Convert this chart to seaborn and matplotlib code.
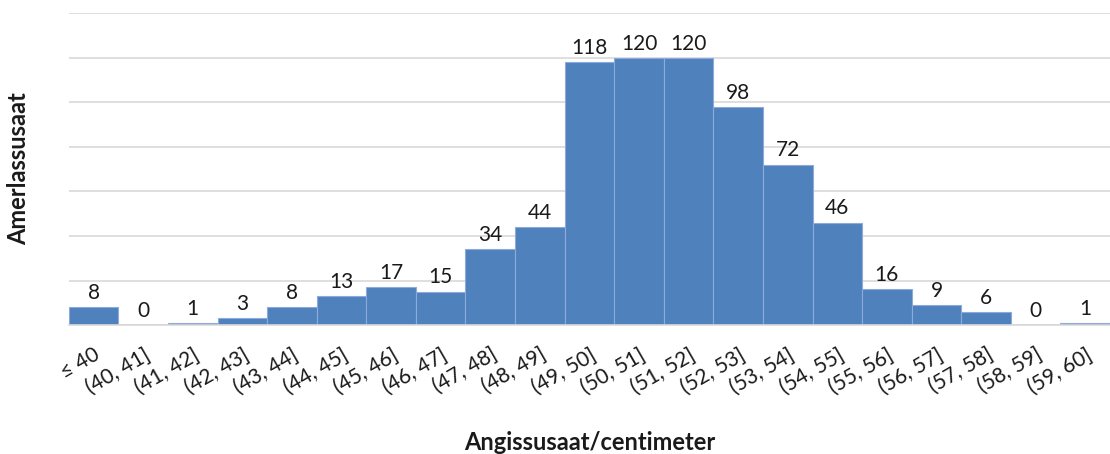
import matplotlib
matplotlib.use("Agg")
import matplotlib.pyplot as plt
import seaborn as sns
import pandas as pd

sns.set_style("white")
plt.rcParams['font.family'] = ['Lato', 'DejaVu Sans']

# Data
categories = ['≤ 40', '(40, 41]', '(41, 42]', '(42, 43]', '(43, 44]', '(44, 45]',
              '(45, 46]', '(46, 47]', '(47, 48]', '(48, 49]', '(49, 50]', '(50, 51]',
              '(51, 52]', '(52, 53]', '(53, 54]', '(54, 55]', '(55, 56]', '(56, 57]',
              '(57, 58]', '(58, 59]', '(59, 60]']
counts = [8, 0, 1, 3, 8, 13, 17, 15, 34, 44, 118, 120, 120, 98, 72, 46, 16, 9, 6, 0, 1]

df = pd.DataFrame({'bin': categories, 'count': counts})

fig = plt.figure(figsize=(11.1, 4.54), dpi=100)
ax = fig.add_axes([0.062, 0.284, 0.938, 0.687])

sns.barplot(data=df, x='bin', y='count', color='#4F81BD', saturation=1,
            width=1.0, edgecolor='#8EAADB', linewidth=0.8, ax=ax)

ax.bar_label(ax.containers[0], labels=[str(c) for c in counts],
             padding=3, fontsize=15, color='#1a1a1a')

ax.set_ylim(0, 140)
ax.set_xlim(-0.5, len(categories) - 0.5)
ax.set_yticks(range(0, 141, 20))
ax.set_yticklabels([])
ax.tick_params(axis='y', length=0)
ax.tick_params(axis='x', length=0, pad=14)
ax.yaxis.grid(True, color='#D9D9D9', linewidth=1.2)
ax.set_axisbelow(True)
for side in ['top', 'right', 'left']:
    ax.spines[side].set_visible(False)
ax.spines['bottom'].set_color('#D9D9D9')
ax.spines['bottom'].set_linewidth(1.2)

plt.setp(ax.get_xticklabels(), rotation=30, ha='right', rotation_mode='anchor',
         fontsize=15, color='#1a1a1a')

ax.set_xlabel('Angissusaat/centimeter', fontsize=17, fontweight='bold', color='#1a1a1a')
ax.set_ylabel('Amerlassusaat', fontsize=17, fontweight='bold', color='#1a1a1a')
ax.xaxis.set_label_coords(0.5, -0.34)
ax.yaxis.set_label_coords(-0.037, 0.5)

plt.savefig('out.png', dpi=100)
